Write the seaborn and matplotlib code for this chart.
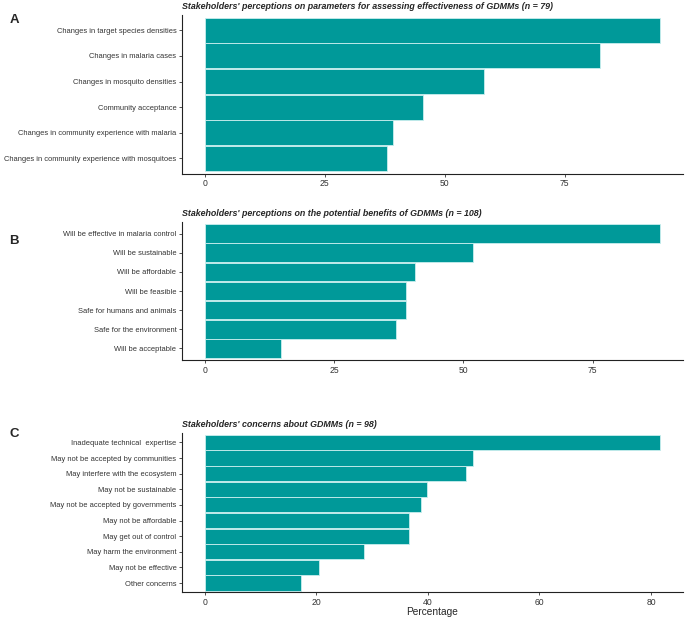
import pandas as pd
import seaborn as sns
import matplotlib.pyplot as plt

# panel A
params = ['Changes in target species densities', 'Changes in malaria cases',
          'Changes in mosquito densities', 'Community acceptance',
          'Changes in community experience with malaria',
          'Changes in community experience with mosquitoes']
params_pct = [94.9, 82.3, 58.2, 45.6, 39.2, 38.0]

# panel B
benefits = ['Will be effective in malaria control', 'Will be sustainable',
            'Will be affordable', 'Will be feasible', 'Safe for humans and animals',
            'Safe for the environment', 'Will be acceptable']
benefits_pct = [88.0, 51.9, 40.7, 38.9, 38.9, 37.0, 14.8]

# panel C
concerns = ['Inadequate technical  expertise', 'May not be accepted by communities',
            'May interfere with the ecosystem', 'May not be sustainable',
            'May not be accepted by governments', 'May not be affordable',
            'May get out of control', 'May harm the environment',
            'May not be effective', 'Other concerns']
concerns_pct = [81.6, 48.0, 46.9, 39.8, 38.8, 36.7, 36.7, 28.6, 20.4, 17.3]

titles = ["Stakeholders' perceptions on parameters for assessing effectiveness of GDMMs (n = 79)",
          "Stakeholders' perceptions on the potential benefits of GDMMs (n = 108)",
          "Stakeholders' concerns about GDMMs (n = 98)"]
letters = ['A', 'B', 'C']
xticks = [[0, 25, 50, 75], [0, 25, 50, 75], [0, 20, 40, 60, 80]]

sns.set_style('ticks')
plt.rcParams['font.family'] = ['Liberation Sans', 'DejaVu Sans']

fig = plt.figure(figsize=(6.85, 6.21), dpi=100)
left, width = 0.2657, 0.731
boxes = [(0.720, 0.256), (0.4203, 0.2222), (0.046, 0.2567)]
letter_y = [0.978, 0.622, 0.31]

panels = [(params, params_pct), (benefits, benefits_pct), (concerns, concerns_pct)]
for i, (cats, vals) in enumerate(panels):
    df = pd.DataFrame({'item': cats, 'pct': vals})
    ax = fig.add_axes([left, boxes[i][0], width, boxes[i][1]])
    sns.barplot(data=df, x='pct', y='item', ax=ax, color='#009999', saturation=1,
                width=0.97, edgecolor='#c9eeee', linewidth=0.6)
    m = max(vals)
    ax.set_xlim(-0.05 * m, 1.05 * m)
    ax.set_ylim(len(cats) - 1 + 0.6, -0.6)
    ax.set_xticks(xticks[i])
    ax.set_ylabel('')
    ax.set_xlabel('Percentage' if i == 2 else '', fontsize=7.3, labelpad=0)
    ax.tick_params(axis='both', colors='#333333', length=2.5, width=0.6, pad=1.5)
    ax.tick_params(axis='y', labelsize=5.45)
    ax.tick_params(axis='x', labelsize=6.2)
    for s in ['left', 'bottom']:
        ax.spines[s].set_linewidth(0.8)
        ax.spines[s].set_color('#222222')
    sns.despine(ax=ax)
    ax.set_title(titles[i], loc='left', fontsize=6.4, fontweight='bold',
                 fontstyle='italic', pad=4)
    fig.text(0.014, letter_y[i], letters[i], fontsize=9.5, fontweight='bold',
             va='top', ha='left')

fig.savefig('out.png', dpi=100)
